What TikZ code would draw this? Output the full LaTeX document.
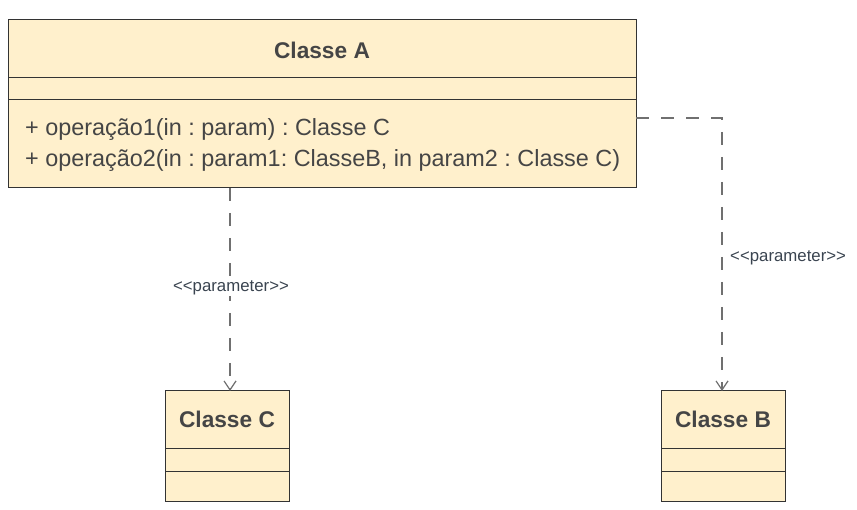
\documentclass[tikz,border=0pt]{standalone}
\usepackage{fontspec}
\setmainfont{Liberation Sans}
\usetikzlibrary{arrows.meta}
\frenchspacing
\definecolor{boxfill}{HTML}{FFF0CC}
\definecolor{boxline}{HTML}{333333}
\definecolor{txt}{HTML}{454545}
\definecolor{lbl}{HTML}{3A4450}
\definecolor{conn}{HTML}{707070}
\tikzset{
  classbox/.style={draw=boxline, fill=boxfill, line width=1pt},
  sepline/.style={draw=boxline, line width=1pt},
  titletext/.style={font=\fontsize{22.7}{26}\selectfont\bfseries, text=txt, anchor=base, inner sep=0pt},
  optext/.style={font=\fontsize{23.4}{27}\selectfont, text=txt, anchor=base west, inner sep=0pt},
  deplabel/.style={font=\fontsize{16.8}{20}\selectfont, text=lbl, inner sep=1pt},
  dep/.style={draw=conn, line width=1.3pt, dash pattern=on 13pt off 12pt,
    -{Straight Barb[length=9pt,width=12pt,line width=1.2pt]}},
}
\begin{document}
\begin{tikzpicture}[x=1pt,y=-1pt]
\useasboundingbox (0,0) rectangle (857,510);
% Class A
\path[classbox] (8,20) rectangle (636,188);
\draw[sepline] (8,78) -- (636,78);
\draw[sepline] (8,100) -- (636,100);
\node[titletext] (ta) at (322,59) {Classe A};
\node[optext] (op1) at (25,136) {+ operação1(in : param) : Classe C};
\node[optext] (op2) at (25,167) {+ operação2(in : param1: ClasseB, in param2 : Classe C)};
\coordinate (abot) at (230,188);
\coordinate (aright) at (636,118);
\coordinate (bend) at (722,118);
% Class C
\path[classbox] (165,391) rectangle (289,501);
\draw[sepline] (165,449) -- (289,449);
\draw[sepline] (165,471) -- (289,471);
\node[titletext] (tc) at (227,428) {Classe C};
\coordinate (ctop) at (230,391);
% Class B
\path[classbox] (661,391) rectangle (785,501);
\draw[sepline] (661,449) -- (785,449);
\draw[sepline] (661,471) -- (785,471);
\node[titletext] (tb) at (723,428) {Classe B};
\coordinate (btop) at (722,391);
% connectors
\draw[dep] (abot) -- (ctop);
\draw[dep] (aright) -- (bend) -- (btop);
\node[deplabel, fill=white, anchor=base] (l1) at (231,292) {<{}<parameter>{}>};
\node[deplabel, anchor=base west] (l2) at (729,262) {<{}<parameter>{}>};
\end{tikzpicture}
\end{document}
